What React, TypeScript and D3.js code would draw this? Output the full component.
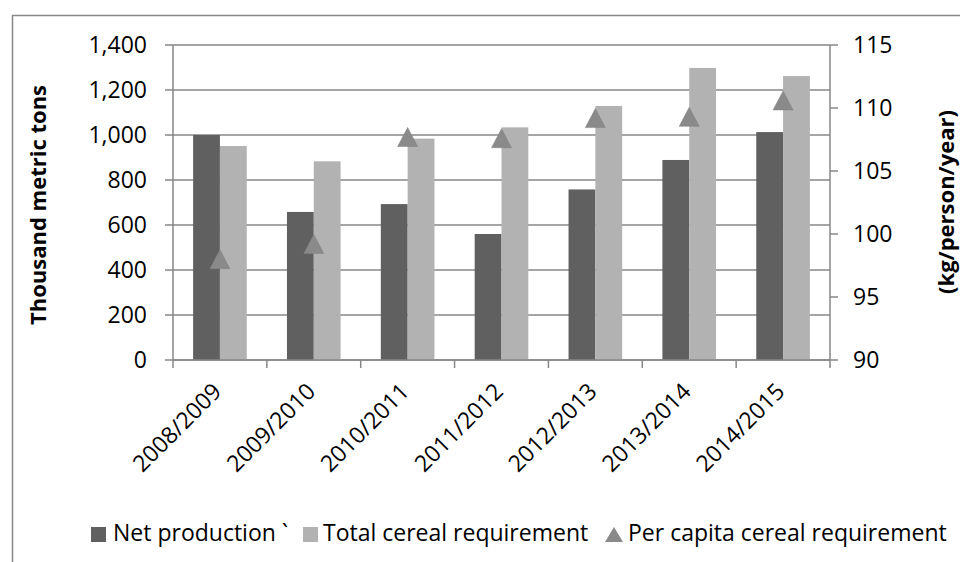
import React from "react";
import * as d3 from "d3";

// Cereal balance by marketing year
const seasons = ["2008/2009", "2009/2010", "2010/2011", "2011/2012", "2012/2013", "2013/2014", "2014/2015"];
const netProduction = [1000, 658, 693, 560, 758, 889, 1013];
const totalRequirement = [951, 883, 984, 1034, 1129, 1298, 1262];
const perCapitaRequirement = [98.0, 99.2, 107.7, 107.6, 109.2, 109.3, 110.6];
const leftTicks = [0, 200, 400, 600, 800, 1000, 1200, 1400];
const rightTicks = [90, 95, 100, 105, 110, 115];

const W = 960;
const H = 562;
const plot = { left: 173, right: 830, top: 45, bottom: 360 };

const FONT = "'Open Sans', 'Noto Sans', sans-serif";
const DARK = "#606060";
const LIGHT = "#b2b2b2";
const TRI = "#8a8a8a";
const GRID = "#878787";

export default function App() {
  const x = d3.scaleBand<string>().domain(seasons).range([plot.left, plot.right]).paddingInner(0).paddingOuter(0);
  const yL = d3.scaleLinear().domain([0, 1400]).range([plot.bottom, plot.top]);
  const yR = d3.scaleLinear().domain([90, 115]).range([plot.bottom, plot.top]);
  const bw = x.bandwidth() / 3.5;
  const fmt = d3.format(",");

  const triPath = (cx: number, cy: number, w = 20, h = 19) => {
    const p = d3.path();
    p.moveTo(cx, cy - h / 2);
    p.lineTo(cx + w / 2, cy + h / 2);
    p.lineTo(cx - w / 2, cy + h / 2);
    p.closePath();
    return p.toString();
  };

  return (
    <svg width={W} height={H} style={{ position: "absolute", left: 0, top: 0, background: "#fff" }} fontFamily={FONT}>
      {/* chart frame */}
      <line x1={12.5} y1={15} x2={12.5} y2={H} stroke={GRID} strokeWidth={1.5} />
      <line x1={12} y1={15.5} x2={W} y2={15.5} stroke={GRID} strokeWidth={1.5} />

      {/* horizontal gridlines */}
      {leftTicks.map((t) => (
        <line key={"g" + t} x1={plot.left - 8} x2={plot.right} y1={yL(t)} y2={yL(t)} stroke={GRID} strokeWidth={1.5} />
      ))}
      {/* right axis ticks */}
      {rightTicks.map((t) => (
        <line key={"rt" + t} x1={plot.right} x2={plot.right + 8} y1={yR(t)} y2={yR(t)} stroke={GRID} strokeWidth={1.5} />
      ))}

      {/* bars */}
      {seasons.map((s, i) => {
        const c = (x(s) as number) + x.bandwidth() / 2;
        return (
          <g key={s}>
            <rect x={c - bw} y={yL(netProduction[i])} width={bw} height={yL(0) - yL(netProduction[i])} fill={DARK} />
            <rect x={c} y={yL(totalRequirement[i])} width={bw} height={yL(0) - yL(totalRequirement[i])} fill={LIGHT} />
          </g>
        );
      })}

      {/* axis lines */}
      <line x1={plot.left} x2={plot.left} y1={plot.top} y2={plot.bottom} stroke={GRID} strokeWidth={1.5} />
      <line x1={plot.right} x2={plot.right} y1={plot.top} y2={plot.bottom} stroke={GRID} strokeWidth={1.5} />
      <line x1={plot.left} x2={plot.right} y1={plot.bottom} y2={plot.bottom} stroke={GRID} strokeWidth={1.5} />
      {d3.range(seasons.length + 1).map((i) => {
        const xx = plot.left + i * x.bandwidth();
        return <line key={"xt" + i} x1={xx} x2={xx} y1={plot.bottom} y2={plot.bottom + 8} stroke={GRID} strokeWidth={1.5} />;
      })}

      {/* per-capita markers */}
      {seasons.map((s, i) => {
        const c = (x(s) as number) + x.bandwidth() / 2;
        return <path key={"tri" + s} d={triPath(c, yR(perCapitaRequirement[i]))} fill={TRI} stroke="#808080" strokeWidth={0.5} />;
      })}

      {/* left tick labels */}
      {leftTicks.map((t) => (
        <text key={"ll" + t} x={147} y={yL(t)} dy="0.36em" textAnchor="end" fontSize={23} fill="#000">
          {fmt(t)}
        </text>
      ))}
      {/* right tick labels */}
      {rightTicks.map((t) => (
        <text key={"rl" + t} x={853} y={yR(t)} dy="0.36em" textAnchor="start" fontSize={23} fill="#000">
          {t}
        </text>
      ))}

      {/* category labels */}
      {seasons.map((s) => {
        const c = (x(s) as number) + x.bandwidth() / 2;
        return (
          <text key={"xl" + s} transform={`translate(${c + 3},${393}) rotate(-45)`} textAnchor="end" fontSize={23} fill="#000">
            {s}
          </text>
        );
      })}

      {/* axis titles */}
      <text transform={`translate(38,205) rotate(-90)`} textAnchor="middle" dy="0.35em" fontSize={22} fontWeight="bold" fill="#000">
        Thousand metric tons
      </text>
      <text transform={`translate(946,202) rotate(-90)`} textAnchor="middle" dy="0.35em" fontSize={22} fontWeight="bold" fill="#000">
        (kg/person/year)
      </text>

      {/* legend */}
      <g fontSize={23} fill="#000">
        <rect x={91} y={527} width={15} height={15} fill={DARK} />
        <text x={113} y={541}>Net production `</text>
        <rect x={303} y={527} width={15} height={15} fill={LIGHT} />
        <text x={323} y={541}>Total cereal requirement</text>
        <path d={triPath(614, 534.5, 18, 15)} fill={TRI} />
        <text x={628} y={541}>Per capita cereal requirement</text>
      </g>
    </svg>
  );
}
